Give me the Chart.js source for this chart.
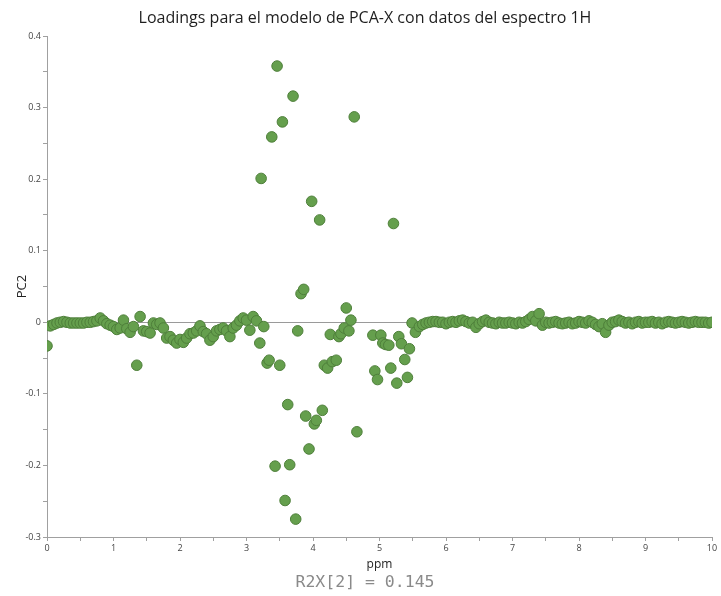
<!DOCTYPE html>
<html>
<head>
<meta charset="utf-8">
<script src="https://cdn.jsdelivr.net/npm/chart.js@4.4.1/dist/chart.umd.min.js"></script>
<style>
  html, body { margin: 0; padding: 0; background: #ffffff; }
  #wrap { width: 721px; height: 596px; position: relative; }
</style>
</head>
<body>
<div id="wrap"><canvas id="c" width="721" height="596"></canvas></div>
<script>
// ---- Data ----
const chartTitle = "Loadings para el modelo de PCA-X con datos del espectro 1H";
const xAxisLabel = "ppm";
const yAxisLabel = "PC2";
const footerText = "R2X[2] = 0.145";

const ppm = [
  0.00, 0.05, 0.10, 0.15, 0.20, 0.25, 0.30, 0.35, 0.40, 0.45,
  0.50, 0.55, 0.60, 0.65, 0.70, 0.75, 0.80, 0.85, 0.90, 0.95,
  1.00, 1.05, 1.10, 1.15, 1.20, 1.25, 1.30, 1.35, 1.40, 1.45,
  1.50, 1.55, 1.60, 1.65, 1.70, 1.75, 1.80, 1.85, 1.90, 1.95,
  2.00, 2.05, 2.10, 2.15, 2.20, 2.25, 2.30, 2.35, 2.40, 2.45,
  2.50, 2.55, 2.60, 2.65, 2.70, 2.75, 2.80, 2.85, 2.90, 2.95,
  3.00, 3.05, 3.10, 3.15, 3.20, 3.22, 3.26, 3.31, 3.34, 3.38,
  3.43, 3.46, 3.50, 3.54, 3.58, 3.62, 3.65, 3.70, 3.74, 3.77,
  3.82, 3.86, 3.89, 3.94, 3.98, 4.02, 4.05, 4.10, 4.14, 4.17,
  4.22, 4.26, 4.29, 4.35, 4.39, 4.42, 4.47, 4.50, 4.54, 4.57,
  4.62, 4.66, 4.90, 4.93, 4.97, 5.02, 5.05, 5.09, 5.14, 5.17,
  5.21, 5.26, 5.29, 5.33, 5.38, 5.42, 5.45, 5.49, 5.54, 5.60,
  5.65, 5.70, 5.75, 5.80, 5.85, 5.90, 5.95, 6.00, 6.05, 6.10,
  6.15, 6.20, 6.25, 6.30, 6.35, 6.40, 6.45, 6.50, 6.55, 6.60,
  6.65, 6.70, 6.75, 6.80, 6.85, 6.90, 6.95, 7.00, 7.05, 7.10,
  7.15, 7.20, 7.25, 7.30, 7.35, 7.40, 7.45, 7.50, 7.55, 7.60,
  7.65, 7.70, 7.75, 7.80, 7.85, 7.90, 7.95, 8.00, 8.05, 8.10,
  8.15, 8.20, 8.25, 8.30, 8.35, 8.40, 8.45, 8.50, 8.55, 8.60,
  8.65, 8.70, 8.75, 8.80, 8.85, 8.90, 8.95, 9.00, 9.05, 9.10,
  9.15, 9.20, 9.25, 9.30, 9.35, 9.40, 9.45, 9.50, 9.55, 9.60,
  9.65, 9.70, 9.75, 9.80, 9.85, 9.90, 9.95, 10.00
];

const pc2 = [
  -0.033, -0.005, -0.003, -0.001, 0.000, 0.001, 0.000, -0.001, -0.001, -0.001,
  -0.001, -0.001, 0.000, 0.000, 0.001, 0.002, 0.006, 0.002, -0.002, -0.004,
  -0.006, -0.010, -0.008, 0.003, -0.009, -0.014, -0.006, -0.060, 0.008, -0.012,
  -0.013, -0.015, -0.001, -0.003, -0.001, -0.008, -0.022, -0.020, -0.025, -0.029,
  -0.024, -0.028, -0.022, -0.016, -0.015, -0.012, -0.005, -0.013, -0.016, -0.025,
  -0.020, -0.012, -0.010, -0.008, -0.012, -0.020, -0.008, -0.004, 0.002, 0.006,
  0.003, -0.011, 0.008, 0.002, -0.029, 0.201, -0.006, -0.057, -0.053, 0.259,
  -0.201, 0.358, -0.060, 0.280, -0.249, -0.115, -0.199, 0.316, -0.275, -0.012,
  0.040, 0.046, -0.131, -0.177, 0.169, -0.142, -0.137, 0.143, -0.123, -0.060,
  -0.064, -0.017, -0.055, -0.053, -0.020, -0.016, -0.008, 0.020, -0.012, 0.003,
  0.287, -0.153, -0.018, -0.068, -0.080, -0.018, -0.029, -0.031, -0.032, -0.064,
  0.138, -0.085, -0.020, -0.030, -0.052, -0.077, -0.037, -0.001, -0.014, -0.006,
  -0.003, -0.001, 0.000, 0.001, 0.001, 0.000, 0.000, -0.002, 0.000, 0.001,
  0.000, 0.002, 0.003, 0.001, -0.001, 0.000, -0.007, -0.002, 0.001, 0.003,
  0.000, -0.001, -0.002, 0.000, -0.001, -0.001, 0.000, -0.001, -0.002, 0.000,
  -0.001, 0.001, 0.004, 0.008, 0.002, 0.012, -0.004, 0.000, -0.001, 0.000,
  0.001, -0.001, -0.002, -0.001, 0.000, -0.002, -0.001, 0.001, 0.000, -0.001,
  0.002, 0.000, -0.003, -0.006, -0.002, -0.014, -0.004, 0.000, 0.001, 0.003,
  0.001, -0.001, 0.000, -0.002, 0.000, 0.001, -0.001, 0.000, 0.000, 0.001,
  -0.001, 0.000, -0.002, 0.000, 0.001, 0.000, -0.001, 0.000, 0.001, 0.000,
  -0.001, 0.000, 0.001, 0.000, 0.000, 0.000, -0.001, 0.000
];

const xTickLabels = ["0","1","2","3","4","5","6","7","8","9","10"];
const yTickLabels = ["-0.3","-0.2","-0.1","0","0.1","0.2","0.3","0.4"];

// ---- Build ----
const points = ppm.map((x, i) => ({ x: x, y: pc2[i] }));

const textPlugin = {
  id: 'extraText',
  afterDraw(chart) {
    const ctx = chart.ctx;
    ctx.save();
    ctx.textAlign = 'center';
    ctx.textBaseline = 'middle';
    ctx.font = '16px "Open Sans", "Noto Sans", sans-serif';
    ctx.fillStyle = '#1e1e1e';
    ctx.fillText(chartTitle, 365, 18);
    ctx.font = '16.5px "DejaVu Sans Mono", monospace';
    ctx.fillStyle = '#8a8a8a';
    ctx.fillText(footerText, 365, 583);
    ctx.restore();
  }
};

const tickFont = { family: '"Open Sans", "Noto Sans", sans-serif', size: 9 };

new Chart(document.getElementById('c'), {
  type: 'scatter',
  data: {
    datasets: [{
      data: points,
      backgroundColor: '#659f4d',
      borderColor: '#4e7f3a',
      borderWidth: 1,
      pointRadius: 5.3,
      pointHoverRadius: 5.3
    }]
  },
  options: {
    responsive: false,
    animation: false,
    devicePixelRatio: 1,
    layout: { padding: { left: 0, right: 9, top: 36, bottom: 23 } },
    plugins: {
      legend: { display: false },
      tooltip: { enabled: false },
      title: { display: false }
    },
    scales: {
      x: {
        type: 'linear',
        min: 0,
        max: 10,
        afterFit: (s) => { s.height = 36; },
        border: { display: true, color: '#a0a0a0', width: 1 },
        grid: {
          drawOnChartArea: false,
          drawTicks: true,
          tickLength: 4,
          tickColor: '#a0a0a0'
        },
        ticks: {
          stepSize: 0.5,
          autoSkip: false,
          maxRotation: 0,
          color: '#444',
          font: tickFont,
          padding: 2,
          callback: (v) => {
            const i = xTickLabels.indexOf(String(Math.round(v * 100) / 100));
            return (Math.abs(v - Math.round(v)) < 1e-9 && i >= 0) ? xTickLabels[i] : '';
          }
        },
        title: {
          display: true,
          text: xAxisLabel,
          color: '#222',
          font: { family: '"Open Sans", "Noto Sans", sans-serif', size: 12 },
          padding: { top: 1, bottom: 1 }
        }
      },
      y: {
        type: 'linear',
        min: -0.3,
        max: 0.4,
        afterFit: (s) => { s.width = 47; },
        border: { display: true, color: '#a0a0a0', width: 1 },
        grid: {
          drawOnChartArea: true,
          drawTicks: true,
          tickLength: 4,
          tickColor: '#a0a0a0',
          color: (ctx) => (ctx.tick && Math.abs(ctx.tick.value) < 1e-9) ? '#9a9a9a' : 'rgba(0,0,0,0)'
        },
        ticks: {
          stepSize: 0.05,
          autoSkip: false,
          color: '#444',
          font: tickFont,
          padding: 2,
          callback: (v) => {
            const r = Math.round(v * 10) / 10;
            if (Math.abs(v - r) > 1e-6) return '';
            const s = r === 0 ? '0' : r.toFixed(1);
            return yTickLabels.includes(s) ? s : '';
          }
        },
        title: {
          display: true,
          text: yAxisLabel,
          color: '#222',
          font: { family: '"Open Sans", "Noto Sans", sans-serif', size: 13 },
          padding: { top: 14, bottom: 0 }
        }
      }
    }
  },
  plugins: [textPlugin]
});
</script>
</body>
</html>
